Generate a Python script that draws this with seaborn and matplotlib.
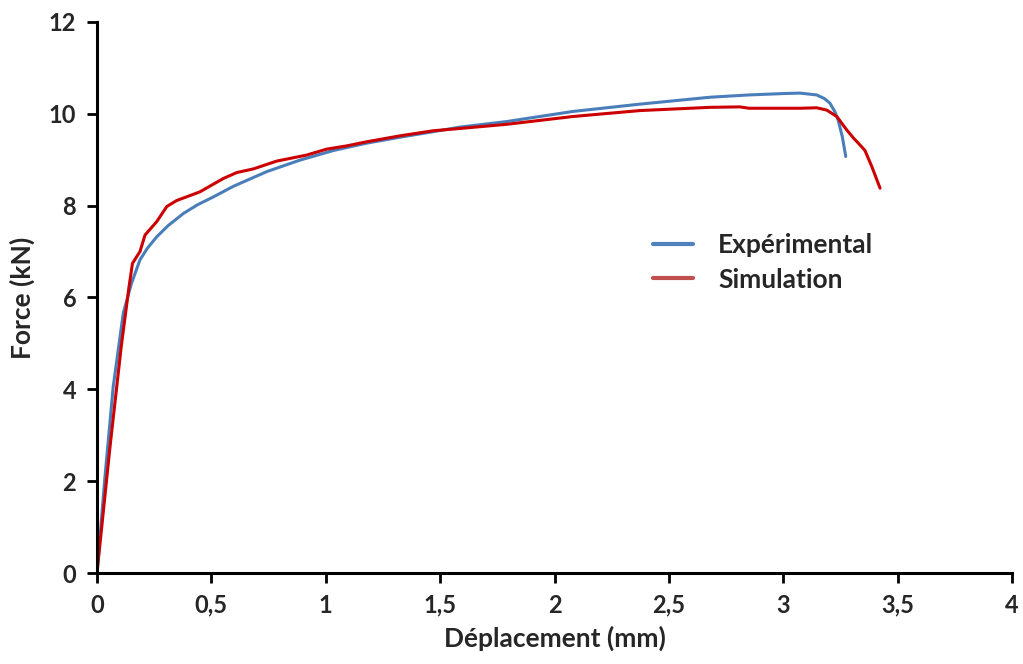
import matplotlib
matplotlib.use("Agg")
import matplotlib.pyplot as plt
from matplotlib.lines import Line2D
import seaborn as sns
import pandas as pd

# Force-displacement curves (mm, kN)
exp_x = [0, 0.035, 0.071, 0.115, 0.151, 0.188, 0.22, 0.261, 0.31, 0.378, 0.44,
         0.509, 0.596, 0.742, 0.887, 1.033, 1.179, 1.325, 1.47, 1.587, 1.79,
         2.08, 2.374, 2.68, 2.85, 3.0, 3.073, 3.146, 3.18, 3.204, 3.225, 3.24,
         3.258, 3.273]
exp_y = [0, 2.1, 4.06, 5.66, 6.31, 6.82, 7.07, 7.32, 7.56, 7.83, 8.02,
         8.19, 8.42, 8.74, 8.99, 9.20, 9.36, 9.49, 9.61, 9.71, 9.83,
         10.05, 10.21, 10.36, 10.41, 10.44, 10.45, 10.41, 10.33, 10.23, 10.05,
         9.86, 9.5, 9.07]

sim_x = [0, 0.057, 0.106, 0.14, 0.155, 0.175, 0.188, 0.21, 0.261, 0.305, 0.348,
         0.45, 0.552, 0.611, 0.684, 0.786, 0.916, 1.004, 1.091, 1.179, 1.325,
         1.47, 1.587, 1.79, 2.08, 2.374, 2.68, 2.81, 2.85, 2.9, 3.073, 3.146,
         3.19, 3.234, 3.277, 3.307, 3.328, 3.357, 3.387, 3.423]
sim_y = [0, 2.75, 4.93, 6.23, 6.74, 6.9, 7.0, 7.36, 7.65, 7.98, 8.11,
         8.30, 8.59, 8.72, 8.80, 8.97, 9.10, 9.23, 9.30, 9.39, 9.52,
         9.63, 9.68, 9.77, 9.94, 10.07, 10.14, 10.15, 10.12, 10.12, 10.12, 10.13,
         10.08, 9.94, 9.65, 9.47, 9.36, 9.2, 8.85, 8.38]

series_names = ["Expérimental", "Simulation"]
line_colors = ["#4A7EBB", "#CC0000"]
legend_colors = ["#4F81BD", "#C0504D"]

x_ticks = [0, 0.5, 1, 1.5, 2, 2.5, 3, 3.5, 4]
x_tick_labels = ["0", "0,5", "1", "1,5", "2", "2,5", "3", "3,5", "4"]
y_ticks = [0, 2, 4, 6, 8, 10, 12]

sns.set_theme(style="white")
plt.rcParams["font.family"] = ["Lato", "DejaVu Sans"]

fig = plt.figure(figsize=(10.23, 6.64), dpi=100)
ax = fig.add_axes([0.0948, 0.137, 0.8945, 0.830])

df_exp = pd.DataFrame({"x": exp_x, "y": exp_y})
df_sim = pd.DataFrame({"x": sim_x, "y": sim_y})
sns.lineplot(data=df_exp, x="x", y="y", ax=ax, color=line_colors[0], lw=2.2,
             sort=False, estimator=None)
sns.lineplot(data=df_sim, x="x", y="y", ax=ax, color=line_colors[1], lw=2.2,
             sort=False, estimator=None)

ax.set_xlim(0, 4)
ax.set_ylim(0, 12)
ax.set_xticks(x_ticks)
ax.set_xticklabels(x_tick_labels)
ax.set_yticks(y_ticks)

for side in ["top", "right"]:
    ax.spines[side].set_visible(False)
for side in ["left", "bottom"]:
    ax.spines[side].set_color("black")
    ax.spines[side].set_linewidth(2.2)

ax.tick_params(axis="both", direction="out", length=7, width=2, color="black",
               labelsize=17, pad=8, bottom=True, left=True)
for lab in ax.get_xticklabels() + ax.get_yticklabels():
    lab.set_fontweight("bold")

ax.set_xlabel("Déplacement (mm)", fontsize=19, fontweight="bold", labelpad=6)
ax.set_ylabel("Force (kN)", fontsize=19, fontweight="bold", labelpad=10)

handles = [Line2D([0], [0], color=c, lw=3) for c in legend_colors]
ax.legend(handles, series_names, loc="upper left", bbox_to_anchor=(0.582, 0.66),
          frameon=False, prop={"weight": "bold", "size": 19},
          handlelength=1.5, handletextpad=0.95, labelspacing=0.4)

fig.savefig("out.png", dpi=100)
